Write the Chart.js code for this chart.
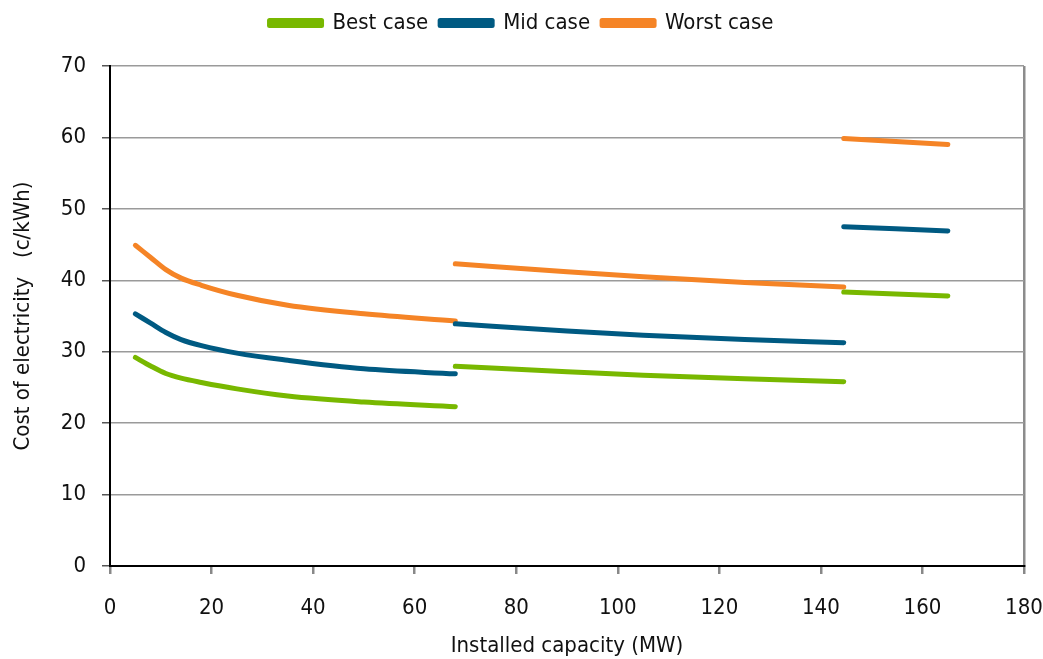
<!DOCTYPE html>
<html><head><meta charset="utf-8">
<script src="https://cdn.jsdelivr.net/npm/chart.js@4/dist/chart.umd.min.js"></script>
<style>html,body{margin:0;padding:0;background:#fff;}#wrap{width:1043px;height:659px;}</style>
</head><body><div id="wrap"><canvas id="c" width="1043" height="659"></canvas></div>
<script>
const seriesNames = ["Best case", "Mid case", "Worst case"];
const seriesColors = ["#78b800", "#005a82", "#f58426"];
const capacity1 = [5, 8, 11, 14, 18, 25, 35, 50, 68];
const best1  = [29.2, 28.0, 26.95, 26.3, 25.7, 24.8, 23.8, 22.95, 22.3];
const mid1   = [35.3, 34.0, 32.7, 31.7, 30.85, 29.8, 28.8, 27.6, 26.9];
const worst1 = [44.9, 43.2, 41.5, 40.3, 39.3, 37.9, 36.5, 35.3, 34.3];
const capacity2 = [68, 90, 105, 125, 144.5];
const best2  = [27.95, 27.2, 26.7, 26.2, 25.8];
const mid2   = [33.9, 32.9, 32.3, 31.7, 31.25];
const worst2 = [42.3, 41.2, 40.5, 39.7, 39.05];
const capacity3 = [144.5, 165];
const best3  = [38.35, 37.8];
const mid3   = [47.5, 46.9];
const worst3 = [59.85, 59.0];
const xTicks = [0, 20, 40, 60, 80, 100, 120, 140, 160, 180];
const yTicks = [0, 10, 20, 30, 40, 50, 60, 70];

const FONT = "'DejaVu Sans Condensed', 'Liberation Sans', sans-serif";

function build(segs) {
  const out = [];
  segs.forEach(([xs, ys], i) => {
    if (i > 0) out.push({x: xs[0], y: null});
    xs.forEach((x, j) => out.push({x: x, y: ys[j]}));
  });
  return out;
}
const seriesData = [
  build([[capacity1, best1], [capacity2, best2], [capacity3, best3]]),
  build([[capacity1, mid1], [capacity2, mid2], [capacity3, mid3]]),
  build([[capacity1, worst1], [capacity2, worst2], [capacity3, worst3]])
];

const legendSpace = {
  id: 'legendSpace',
  beforeInit(chart) {
    const lg = chart.legend;
    const orig = lg.fit;
    lg.fit = function () { orig.call(this); this.height += 22; };
  }
};

new Chart(document.getElementById('c'), {
  type: 'line',
  plugins: [legendSpace],
  data: {
    datasets: seriesNames.map((n, i) => ({
      label: n,
      data: seriesData[i],
      borderColor: seriesColors[i],
      backgroundColor: seriesColors[i],
      borderWidth: 5,
      borderCapStyle: 'round',
      borderJoinStyle: 'round',
      pointRadius: 0,
      pointHoverRadius: 0,
      cubicInterpolationMode: 'monotone',
      spanGaps: false,
      fill: false
    }))
  },
  options: {
    responsive: false,
    animation: false,
    layout: {padding: {left: 0, right: 0, top: 0, bottom: 0}},
    plugins: {
      legend: {
        position: 'top',
        labels: {
          font: {family: FONT, size: 22},
          color: '#111',
          boxWidth: 52,
          boxHeight: 5,
          padding: 12
        }
      },
      tooltip: {enabled: false}
    },
    scales: {
      x: {
        type: 'linear',
        min: 0, max: 180,
        afterBuildTicks: s => { s.ticks = xTicks.map(v => ({value: v})); },
        afterFit: s => { s.height = 93; s.paddingRight = 19; s.paddingLeft = 0; },
        ticks: {font: {family: FONT, size: 22}, color: '#111', padding: 21},
        border: {color: '#000', width: 2},
        grid: {
          color: c => (c.tick && c.tick.value === 180) ? '#8c8c8c' : 'rgba(0,0,0,0)',
          lineWidth: 2.5,
          tickColor: '#888',
          tickLength: 8,
          drawTicks: true
        },
        title: {display: true, text: 'Installed capacity (MW)', font: {family: FONT, size: 22}, color: '#111', padding: {top: 0, bottom: 0}}
      },
      y: {
        type: 'linear',
        min: 0, max: 70,
        afterBuildTicks: s => { s.ticks = yTicks.map(v => ({value: v})); },
        afterFit: s => { s.width = 110; },
        ticks: {font: {family: FONT, size: 22}, color: '#111', padding: 16},
        border: {color: '#000', width: 2},
        grid: {color: '#9a9a9a', lineWidth: 1.5, tickColor: '#555', tickLength: 8},
        title: {display: true, text: 'Cost of electricity   (c/kWh)', font: {family: FONT, size: 22}, color: '#111', padding: {top: 10, bottom: 0}}
      }
    }
  }
});
</script></body></html>
